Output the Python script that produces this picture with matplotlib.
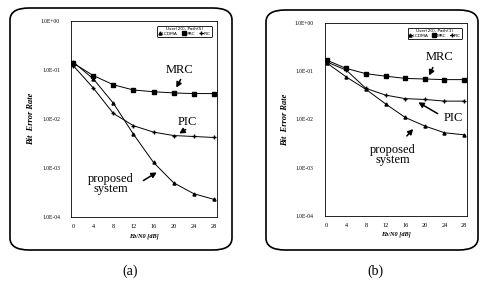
import matplotlib.pyplot as plt
import numpy as np
from matplotlib.patches import FancyBboxPatch, FancyArrowPatch

ebn0 = [0, 4, 8, 12, 16, 20, 24, 28]
y_ticks = [1e0, 1e-1, 1e-2, 1e-3, 1e-4]
y_tick_labels = ['1.0E+00', '1.0E-01', '1.0E-02', '1.0E-03', '1.0E-04']

# panel (a): User(20), Path(5)
a_icdma = [0.145, 0.066, 0.021, 0.0049, 0.0013, 0.0005, 0.0003, 0.00023]
a_mrc = [0.138, 0.077, 0.050, 0.039, 0.036, 0.034, 0.033, 0.033]
a_pic = [0.123, 0.043, 0.013, 0.0073, 0.0054, 0.0046, 0.0044, 0.0042]

# panel (b): User(20), Path(1)
b_icdma = [0.149, 0.076, 0.042, 0.021, 0.011, 0.0073, 0.0053, 0.0048]
b_mrc = [0.17, 0.114, 0.089, 0.079, 0.071, 0.069, 0.067, 0.067]
b_pic = [0.156, 0.105, 0.044, 0.032, 0.027, 0.026, 0.024, 0.024]

legend_titles = ['User(20), Path(5)', 'User(20), Path(1)']
series_names = ['I-CDMA', 'MRC', 'PIC']

W, H = 484, 299


def px(x, y):
    # pixel position -> figure fraction
    return x / W, 1 - y / H


def rounded_box(fig, x0, y0, x1, y1):
    fx0, fy1 = px(x0, y0)
    fx1, fy0 = px(x1, y1)
    box = FancyBboxPatch((fx0, fy0), fx1 - fx0, fy1 - fy0,
                         boxstyle='round,pad=0,rounding_size=0.04',
                         transform=fig.transFigure, fill=False,
                         ec='black', lw=1.2, zorder=0)
    fig.add_artist(box)


def draw_panel(ax, icdma, mrc, pic, title):
    ax.plot(ebn0, icdma, c='black', lw=0.7, marker='^', ms=2.2, label=series_names[0])
    ax.plot(ebn0, mrc, c='black', lw=0.7, marker='s', ms=3.2, label=series_names[1])
    ax.plot(ebn0, pic, c='black', lw=0.7, marker='+', ms=3.2, mew=1.0, label=series_names[2])
    ax.set_yscale('log')
    ax.set_ylim(1e-4, 1e0)
    ax.set_xlim(-0.4, 28.6)
    ax.set_xticks(ebn0)
    ax.set_xticklabels([str(v) for v in ebn0], fontsize=4.5, family='Liberation Serif')
    ax.set_yticks(y_ticks)
    ax.set_yticklabels(y_tick_labels, fontsize=4, family='Liberation Serif')
    ax.minorticks_off()
    ax.tick_params(axis='x', length=0, pad=5)
    ax.tick_params(axis='y', length=0, pad=8)
    ax.set_xlabel('Eb/N0 [dB]', fontsize=4.5, style='italic', weight='bold',
                  family='Liberation Serif', labelpad=3)
    ax.set_ylabel('Bit  Error Rate', fontsize=6, style='italic', weight='bold',
                  family='Liberation Serif', labelpad=4)
    for s in ax.spines.values():
        s.set_linestyle((0, (2, 1)))
        s.set_linewidth(0.6)
    leg = ax.legend(title=title, ncol=3, loc='upper right', fontsize=3.2,
                    title_fontsize=3.2, fancybox=True, framealpha=1,
                    edgecolor='black', handlelength=0.6, handletextpad=0.2,
                    columnspacing=1.0, borderpad=0.3, labelspacing=0.1,
                    bbox_to_anchor=(0.98, 0.985))
    leg.get_frame().set_linewidth(0.6)


def label(fig, text, xy_px):
    fig.text(*px(*xy_px), text, fontsize=9, family='Liberation Serif',
             ha='center', va='center', linespacing=0.85)


def arrow(fig, start_px, end_px):
    fig.add_artist(FancyArrowPatch(
        px(*start_px), px(*end_px), transform=fig.transFigure,
        arrowstyle='-|>,head_length=3,head_width=1.6', lw=1.1, color='black'))


def main():
    fig = plt.figure(figsize=(W / 100, H / 100), dpi=100)

    rounded_box(fig, 10, 8, 232, 250)
    rounded_box(fig, 266, 10, 478, 250)

    ax1 = fig.add_axes([0.147, 0.274, 0.301, 0.656])
    ax2 = fig.add_axes([0.671, 0.278, 0.294, 0.645])
    draw_panel(ax1, a_icdma, a_mrc, a_pic, legend_titles[0])
    draw_panel(ax2, b_icdma, b_mrc, b_pic, legend_titles[1])

    # labels on panel (a)
    label(fig, 'MRC', (180, 70))
    arrow(fig, (182, 77), (175, 90))
    label(fig, 'PIC', (187, 122))
    arrow(fig, (188, 128), (177, 135))
    label(fig, 'proposed\nsystem', (111, 184))
    arrow(fig, (141, 182), (159, 171))

    # labels on panel (b)
    label(fig, 'MRC', (440, 57))
    arrow(fig, (434, 65), (428, 78))
    label(fig, 'PIC', (453, 118))
    arrow(fig, (440, 115), (416, 101))
    label(fig, 'proposed\nsystem', (393, 155))
    arrow(fig, (405, 138), (415, 127))

    fig.text(*px(130, 271), '(a)', fontsize=10, family='Liberation Serif',
             ha='center', va='center')
    fig.text(*px(375, 271), '(b)', fontsize=10, family='Liberation Serif',
             ha='center', va='center')

    fig.savefig('out.png', dpi=100)


if __name__ == '__main__':
    main()
